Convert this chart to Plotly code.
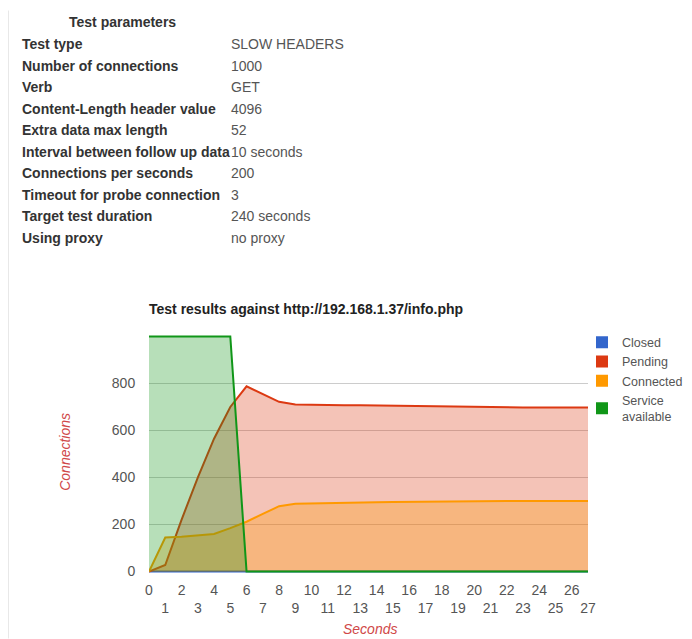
import plotly.graph_objects as go

# ---------------- data ----------------
seconds = [0, 1, 2, 3, 4, 5, 6, 7, 8, 9, 10, 11, 12, 13, 14, 15, 16, 17, 18, 19, 20, 21, 22, 23, 24, 25, 26, 27]
closed = [0, 0, 0, 0, 0, 0, 0, 0, 0, 0, 0, 0, 0, 0, 0, 0, 0, 0, 0, 0, 0, 0, 0, 0, 0, 0, 0, 0]
pending = [0, 28, 220, 400, 565, 700, 788, 755, 722, 710, 708, 707, 707, 707, 706, 706, 705, 704, 702, 699, 698, 698, 698, 698, 698, 698, 698, 698]
connected = [0, 145, 148, 153, 160, 185, 212, 245, 278, 288, 290, 292, 293, 294, 295, 296, 297, 298, 299, 300, 300, 300, 300, 300, 300, 300, 300, 300]
service = [1000, 1000, 1000, 1000, 1000, 1000, 0, 0, 0, 0, 0, 0, 0, 0, 0, 0, 0, 0, 0, 0, 0, 0, 0, 0, 0, 0, 0, 0]

series_names = ["Closed", "Pending", "Connected", "Service<br>available"]
series_values = [closed, pending, connected, service]
series_colors = ["#3366cc", "#dc3912", "#ff9900", "#109618"]
series_fills = ["rgba(51,102,204,0.3)", "rgba(220,57,18,0.3)", "rgba(255,153,0,0.3)", "rgba(16,150,24,0.3)"]

y_ticks = [0, 200, 400, 600, 800]
x_ticktext = [("<br>%d" % s) if s % 2 else str(s) for s in seconds]

param_labels = ["Test type", "Number of connections", "Verb", "Content-Length header value",
                "Extra data max length", "Interval between follow up data", "Connections per seconds",
                "Timeout for probe connection", "Target test duration", "Using proxy"]
param_values = ["SLOW HEADERS", "1000", "GET", "4096", "52", "10 seconds", "200", "3",
                "240 seconds", "no proxy"]

chart_title = "Test results against http://192.168.1.37/info.php"

# ---------------- layout geometry (page pixels; the figure sits 8px in) ----------------
OFF = 8
W, H = 692 - OFF, 639 - OFF
L, R = 149, 588
T, B = 335, 573.4
FONT = "Liberation Sans, Arial, sans-serif"


def px(x):
    return (x - L) / (R - L)


def py(y):
    return (B - y) / (B - T)


fig = go.Figure()

for name, vals, col, fc in zip(series_names, series_values, series_colors, series_fills):
    fig.add_trace(go.Scatter(x=seconds, y=vals, mode="lines", fill="tozeroy",
                             line=dict(color=col, width=2), fillcolor=fc,
                             showlegend=False, hoverinfo="skip"))

for name, col in zip(series_names, series_colors):
    fig.add_trace(go.Scatter(x=[None], y=[None], mode="markers", name=name,
                             marker=dict(symbol="square", size=12, color=col)))

annotations = []
# table
annotations.append(dict(text="<b>Test parameters</b>", x=px(122), y=py(21), xref="paper", yref="paper",
                        xanchor="center", yanchor="middle", showarrow=False,
                        font=dict(family=FONT, size=14, color="#333")))
row_y = [44, 65.5, 87, 109, 130, 151.5, 173, 194.5, 216, 237.5]
for lab, val, yy in zip(param_labels, param_values, row_y):
    annotations.append(dict(text="<b>%s</b>" % lab, x=px(20), y=py(yy), xref="paper", yref="paper",
                            xanchor="left", yanchor="middle", showarrow=False,
                            font=dict(family=FONT, size=14, color="#333")))
    annotations.append(dict(text=val, x=px(229), y=py(yy), xref="paper", yref="paper",
                            xanchor="left", yanchor="middle", showarrow=False,
                            font=dict(family=FONT, size=14, color="#555")))
# chart title
annotations.append(dict(text="<b>%s</b>" % chart_title, x=px(147), y=py(309), xref="paper", yref="paper",
                        xanchor="left", yanchor="middle", showarrow=False,
                        font=dict(family=FONT, size=14, color="#222")))
# axis titles
annotations.append(dict(text="<i>Connections</i>", x=px(65), y=py(452), xref="paper", yref="paper",
                        xanchor="center", yanchor="middle", showarrow=False, textangle=-90,
                        font=dict(family=FONT, size=14, color="#d04848")))
annotations.append(dict(text="<i>Seconds</i>", x=px(370), y=py(629), xref="paper", yref="paper",
                        xanchor="center", yanchor="middle", showarrow=False,
                        font=dict(family=FONT, size=14, color="#d04848")))

fig.update_layout(
    width=W, height=H,
    margin=dict(l=L - OFF, r=692 - R, t=T - OFF, b=639 - B, autoexpand=False),
    paper_bgcolor="white", plot_bgcolor="white",
    font=dict(family=FONT, size=14, color="#555"),
    annotations=annotations,
    shapes=[dict(type="line", xref="paper", yref="paper", x0=px(8.5), x1=px(8.5), y0=py(10), y1=py(639),
                 line=dict(color="#e8e8e8", width=1))],
    legend=dict(x=px(582), y=py(327.7), xanchor="left", yanchor="top", bgcolor="rgba(0,0,0,0)",
                font=dict(family=FONT, size=12.5, color="#555"), tracegroupgap=0),
    showlegend=True,
)

fig.update_xaxes(range=[0, 27], tickmode="array", tickvals=seconds, ticktext=x_ticktext,
                 showgrid=False, zeroline=False, showline=False,
                 ticks="outside", ticklen=4, tickcolor="rgba(0,0,0,0)",
                 tickfont=dict(family=FONT, size=14, color="#555"), tickangle=0)
fig.update_yaxes(range=[-6, 1006], tickmode="array", tickvals=y_ticks,
                 showgrid=True, gridcolor="#cccccc", gridwidth=1, zeroline=False, showline=False,
                 ticks="outside", ticklen=10, tickcolor="rgba(0,0,0,0)",
                 tickfont=dict(family=FONT, size=14, color="#555"))

fig.write_html("out.html")
